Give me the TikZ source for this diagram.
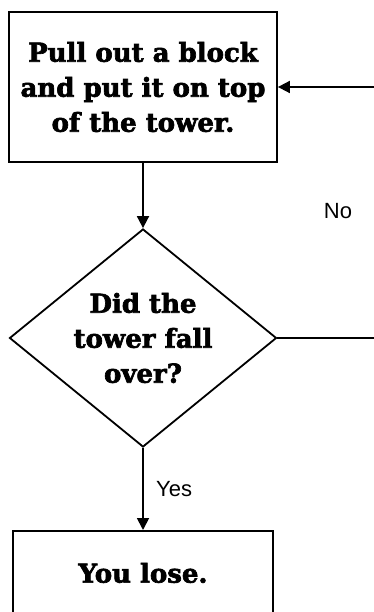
\documentclass[tikz,border=0pt]{standalone}
\usepackage{fontspec}
\setsansfont{Liberation Sans}
\newfontfamily\posterfont{DejaVu Serif Bold}[FakeBold=2.5]
\usetikzlibrary{shapes.geometric,arrows.meta,positioning}

\begin{document}
\begin{tikzpicture}[x=1pt,y=-1pt,
    stepbox/.style={draw,line width=1.8pt,rectangle,inner sep=0pt,align=center,
        font=\posterfont\fontsize{26}{35}\selectfont},
    askbox/.style={draw,line width=1.8pt,diamond,aspect=1.22,inner sep=0pt,align=center,
        minimum width=267pt,minimum height=218pt,
        font=\posterfont\fontsize{26}{35}\selectfont},
    flow/.style={line width=1.8pt,-{Triangle[length=12pt,width=12pt]}},
    answer/.style={font=\sffamily\fontsize{22}{26}\selectfont}]
    \useasboundingbox (0,0) rectangle (374,612);
    \clip (0,0) rectangle (374,612);
    \node (pull) [stepbox,minimum width=268pt,minimum height=150pt] at (143,87)
        {Pull out a block\\and put it on top\\of the tower.};
    \node (fall) [askbox] at (143,338) {Did the\\tower fall\\over?};
    \node (lose) [stepbox,minimum width=260pt,minimum height=84pt,anchor=north] at (143,530) {You lose.};
    \coordinate (loopin) at (380,87);
    \coordinate (loopout) at (380,338);
    \draw[flow] (loopin) -- (pull.east);
    \draw[flow] (pull.south) -- (fall.north);
    \draw[line width=1.8pt] (fall.east) -- (loopout);
    \draw[flow] (fall.south) -- node[answer,right=9pt] (yes) {Yes} (lose.north);
    \node (no) [answer] at (338,211) {No};
    %\draw[flow] (loopout) |- (loopin);
\end{tikzpicture}
\end{document}
